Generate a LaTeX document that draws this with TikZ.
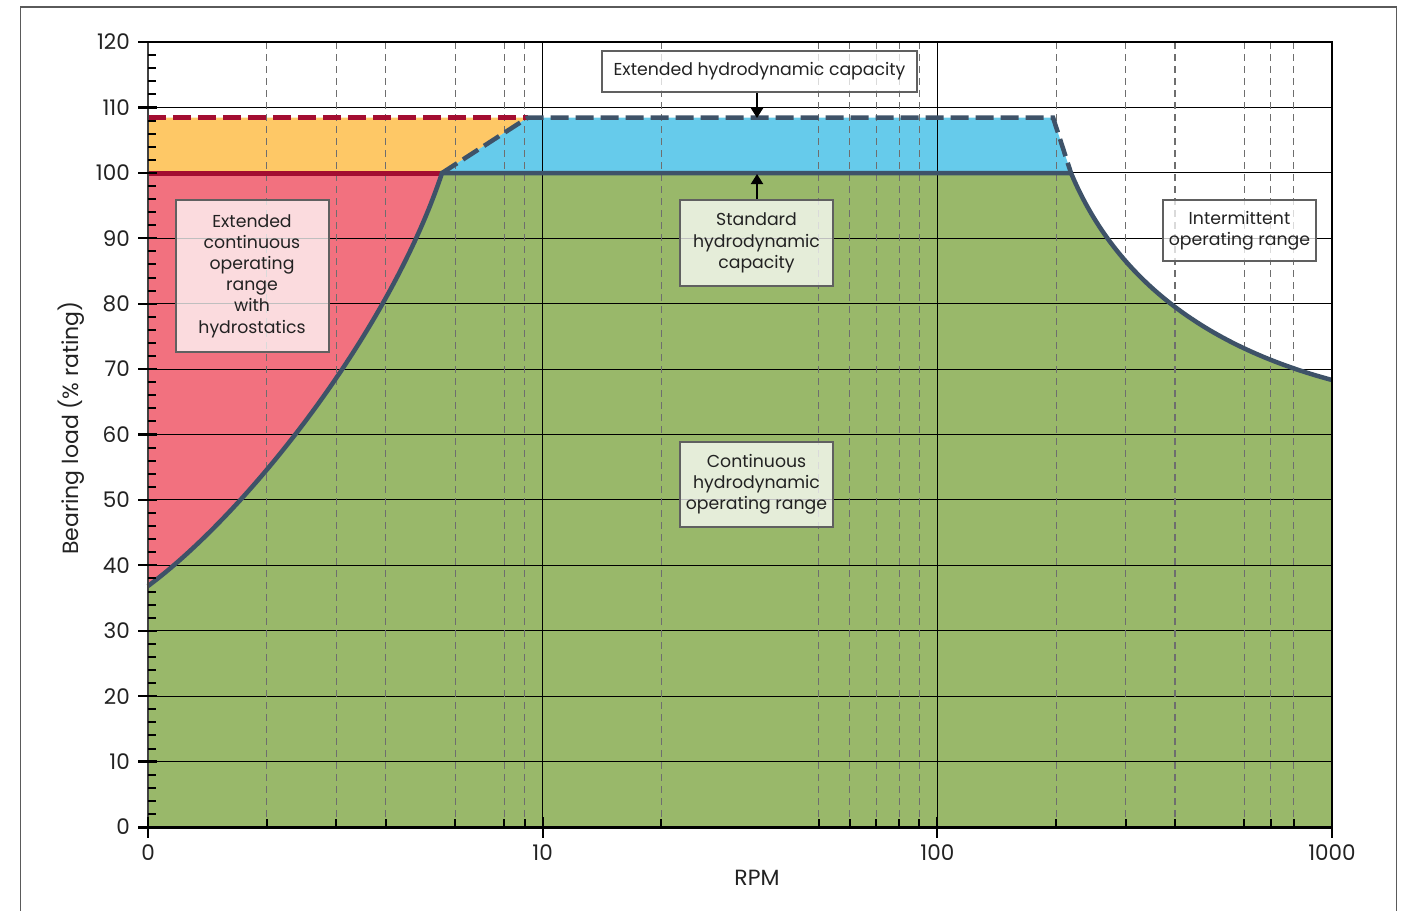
\documentclass[tikz,border=0pt]{standalone}
\usepackage{fontspec}
\setmainfont{Poppins}
\usetikzlibrary{arrows.meta}

\definecolor{redzone}{RGB}{242,113,127}
\definecolor{orangezone}{RGB}{254,200,102}
\definecolor{bluezone}{RGB}{102,203,235}
\definecolor{greenzone}{RGB}{153,184,106}
\definecolor{slate}{RGB}{62,82,104}
\definecolor{darkred}{RGB}{163,13,49}
\definecolor{boxgray}{RGB}{96,96,96}
\definecolor{framegray}{RGB}{90,90,90}
\definecolor{dashgray}{RGB}{110,110,110}
\definecolor{textdark}{RGB}{34,34,34}

\begin{document}
\begin{tikzpicture}[x=1pt,y=-1pt,
  gridline/.style={black,line width=1pt},
  griddash/.style={dashgray,line width=1.1pt,dash pattern=on 7pt off 5pt},
  bound/.style={slate,line width=4.5pt},
  boundash/.style={slate,line width=4.5pt,dash pattern=on 18pt off 7pt},
  redbound/.style={darkred,line width=5pt},
  majtick/.style={black,line width=2.2pt},
  mintick/.style={black,line width=2pt},
  infobox/.style={draw=boxgray,line width=2pt,fill=white,fill opacity=0.75,text opacity=1,
    text=textdark,align=center,inner sep=0pt,font=\fontsize{17.3}{21.2}\selectfont},
  ticklabel/.style={text=textdark,font=\fontsize{21.5}{24}\selectfont,inner sep=0pt},
  axistitle/.style={text=textdark,font=\fontsize{22}{24}\selectfont,inner sep=0pt},
  pointer/.style={black,line width=2pt,-{Triangle[length=10pt,width=12pt]}}]

\useasboundingbox (0,0) rectangle (1407,910);

% outer frame
\draw[framegray,line width=1.8pt] (20.5,930) -- (20.5,7) -- (1396.5,7) -- (1396.5,930);

% key points of the operating envelope
\coordinate (start) at (148,586);
\coordinate (knee) at (442,173);
\coordinate (extL) at (528,117.5);
\coordinate (extR) at (1053,117.5);
\coordinate (drop) at (1071,173);
\coordinate (rend) at (1332,380);

% coloured zones
\fill[greenzone] (148,827) -- (start) .. controls (250,510) and (390,330) .. (knee)
  -- (drop) .. controls (1120,290) and (1220,350) .. (rend) -- (1332,827) -- cycle;
\fill[redzone] (148,173) -- (knee) .. controls (390,330) and (250,510) .. (start) -- cycle;
\fill[orangezone] (148,117.5) -- (extL) -- (knee) -- (148,173) -- cycle;
\fill[bluezone] (extL) -- (extR) -- (drop) -- (knee) -- cycle;

% horizontal grid
\foreach \v in {10,20,...,110}
  \draw[gridline] (148,{827-\v*6.541667}) -- (1332,{827-\v*6.541667});

% vertical grid: decades solid, intermediate values dashed
\foreach \r in {2,3,4,6,8,9,20,50,60,70,80,90,200,300,400,600,700,800}{
  \pgfmathsetmacro\xx{148+394.667*log10(\r)}
  \draw[griddash] (\xx,42) -- (\xx,827);
  \draw[mintick] (\xx,819) -- (\xx,827);
}
\draw[gridline] (542.67,42) -- (542.67,827);
\draw[gridline] (937.33,42) -- (937.33,827);

% envelope boundaries
\draw[redbound] (148,173) -- (knee);
\draw[redbound,dash pattern=on 18pt off 7pt] (148,117.5) -- (extL);
\draw[boundash] (knee) -- (extL) -- (extR) -- (drop);
\draw[bound] (start) .. controls (250,510) and (390,330) .. (knee)
  -- (drop) .. controls (1120,290) and (1220,350) .. (rend);

% plot frame and axes
\draw[black,line width=2.5pt] (138,42) -- (1332,42) -- (1332,827);
\draw[black!75,line width=2.5pt] (148,42) -- (148,827);
\draw[black,line width=3pt] (138,827) -- (1332,827);

% y ticks and labels
\foreach \v in {0,10,...,120}{
  \draw[majtick] (138,{827-\v*6.541667}) -- (157,{827-\v*6.541667});
  \node[ticklabel,anchor=east] at (130,{827-\v*6.541667}) {\v};
}
\foreach \v in {2,4,6,8,12,14,16,18,22,24,26,28,32,34,36,38,42,44,46,48,52,54,56,58,62,64,66,68,72,74,76,78,82,84,86,88,92,94,96,98,102,104,106,108,112,114,116,118}
  \draw[mintick] (148,{827-\v*6.541667}) -- (156,{827-\v*6.541667});

% x ticks and labels
\foreach \xx/\t in {148/0,542.67/10,937.33/100,1332/1000}{
  \draw[majtick] (\xx,817) -- (\xx,838);
  \node[ticklabel] at (\xx,853) {\t};
}

% axis titles
\node[axistitle] (xtitle) at (757,878) {RPM};
\node[axistitle,rotate=90] (ytitle) at (71,428) {Bearing load (\% rating)};

% annotation boxes
\node[infobox,minimum width=315pt,minimum height=41pt] (extcap) at (759.5,71.5) {Extended hydrodynamic capacity};
\node[infobox,minimum width=153pt,minimum height=152pt] (hydrostat) at (252,276) {Extended\\continuous\\operating\\range\\with\\hydrostatics};
\node[infobox,minimum width=153pt,minimum height=86pt] (stdcap) at (756.5,243) {Standard\\hydrodynamic\\capacity};
\node[infobox,minimum width=153pt,minimum height=85pt] (contrange) at (756.5,484) {Continuous\\hydrodynamic\\operating range};
\node[infobox,minimum width=153pt,minimum height=61pt] (intermit) at (1239.5,230.5) {Intermittent\\operating range};

% pointers to the capacity limits
\coordinate (extmark) at (757,118);
\coordinate (stdmark) at (757,174);
\draw[pointer] (extcap.south -| extmark) -- (extmark);
\draw[pointer] (stdcap.north -| stdmark) -- (stdmark);
\end{tikzpicture}
\end{document}
